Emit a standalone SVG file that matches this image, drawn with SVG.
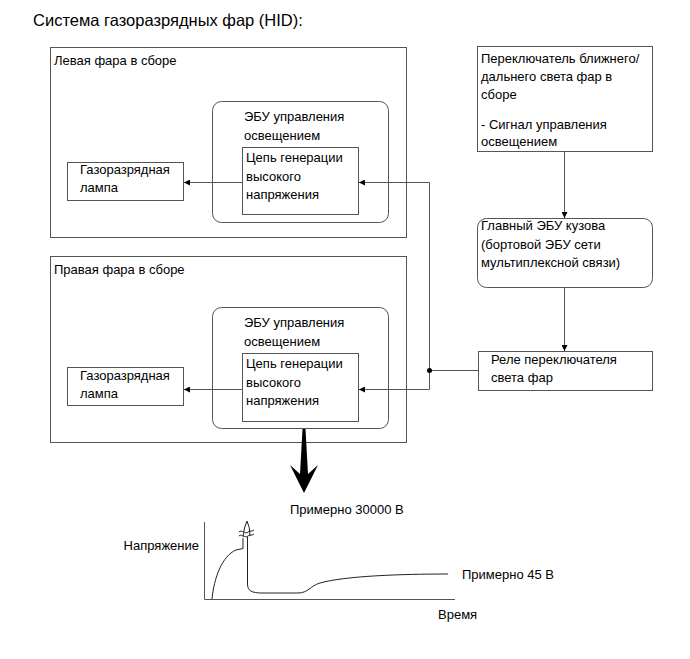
<svg xmlns="http://www.w3.org/2000/svg" width="690" height="659" viewBox="0 0 690 659">
<defs>
<style>
text{font-family:"Liberation Sans",Arial,sans-serif;font-size:13px;fill:#000}
.t{font-size:16.5px}
.box{fill:none;stroke:#555;stroke-width:1}
.ln{fill:none;stroke:#555;stroke-width:1}
.cv{fill:none;stroke:#222;stroke-width:1}
</style>
<marker id="ah" viewBox="0 0 10 10" refX="10" refY="5" markerWidth="9" markerHeight="6" markerUnits="userSpaceOnUse" orient="auto">
<path d="M0,0 L10,5 L0,10 z" fill="#000"/>
</marker>
</defs>
<rect width="690" height="659" fill="#fff"/>
<text class="t" x="33" y="26">Система газоразрядных фар (HID):</text>

<g id="left-headlamp">
<rect class="box" x="50.5" y="47.5" width="356" height="190"/>
<text x="54" y="65">Левая фара в сборе</text>
</g>
<g id="left-ecu">
<rect class="box" x="212.5" y="101.5" width="176" height="121" rx="9"/>
<text x="244" y="121">ЭБУ управления</text>
<text x="244" y="140">освещением</text>
</g>
<g id="left-hv">
<rect class="box" x="242.5" y="147.5" width="116" height="67"/>
<text x="246" y="162">Цепь генерации</text>
<text x="246" y="181">высокого</text>
<text x="246" y="199">напряжения</text>
</g>
<g id="left-lamp">
<rect class="box" x="67.5" y="162.5" width="116" height="38"/>
<text x="80" y="174">Газоразрядная</text>
<text x="80" y="192">лампа</text>
</g>

<g id="right-headlamp">
<rect class="box" x="50.5" y="256.5" width="356" height="186"/>
<text x="54" y="274">Правая фара в сборе</text>
</g>
<g id="right-ecu">
<rect class="box" x="212.5" y="307.5" width="176" height="121" rx="9"/>
<text x="244" y="327">ЭБУ управления</text>
<text x="244" y="346">освещением</text>
</g>
<g id="right-hv">
<rect class="box" x="242.5" y="353.5" width="116" height="68"/>
<text x="246" y="368">Цепь генерации</text>
<text x="246" y="387">высокого</text>
<text x="246" y="405">напряжения</text>
</g>
<g id="right-lamp">
<rect class="box" x="67.5" y="367.5" width="116" height="38"/>
<text x="80" y="380">Газоразрядная</text>
<text x="80" y="398">лампа</text>
</g>

<g id="switch">
<rect class="box" x="477.5" y="46.5" width="175" height="105"/>
<text x="481" y="63">Переключатель ближнего/</text>
<text x="481" y="81">дальнего света фар в</text>
<text x="481" y="99">сборе</text>
<text x="481" y="129">- Сигнал управления</text>
<text x="481" y="146">освещением</text>
</g>
<g id="body-ecu">
<rect class="box" x="477.5" y="218.5" width="175" height="69" rx="9"/>
<text x="481" y="230">Главный ЭБУ кузова</text>
<text x="481" y="249">(бортовой ЭБУ сети</text>
<text x="481" y="267">мультиплексной связи)</text>
</g>
<g id="relay">
<rect class="box" x="478.5" y="351.5" width="174" height="39"/>
<text x="491" y="364">Реле переключателя</text>
<text x="491" y="382">света фар</text>
</g>

<g id="connectors">
<path class="ln" d="M564.5,152 V218" marker-end="url(#ah)"/>
<path class="ln" d="M564.5,288 V351" marker-end="url(#ah)"/>
<path class="ln" d="M478,370.5 H429.5"/>
<path class="ln" d="M429.5,182.5 V389.5"/>
<path class="ln" d="M429.5,182.5 H359" marker-end="url(#ah)"/>
<path class="ln" d="M429.5,389.5 H359" marker-end="url(#ah)"/>
<path class="ln" d="M242,182.5 H184" marker-end="url(#ah)"/>
<path class="ln" d="M242,389.5 H184" marker-end="url(#ah)"/>
<circle cx="429.5" cy="370.5" r="2.5" fill="#000"/>
</g>

<g id="big-arrow">
<polygon points="302.5,429 305.5,429 308,474 318,465 304,493 290,465 300,474" fill="#000"/>
</g>

<g id="graph">
<text x="290" y="514">Примерно 30000 В</text>
<text x="199" y="550" text-anchor="end">Напряжение</text>
<text x="462" y="579">Примерно 45 В</text>
<text x="438" y="619">Время</text>
<path class="ln" d="M204.5,522 V599.5 H455"/>
<path class="cv" d="M212,599 C214,578 222,556 236,550 L243,548.5 V538"/>
<path class="cv" d="M243,537 Q244,527 247,521 Q250,527 250,536"/>
<path class="cv" d="M239,532 C242,529 245,535 248,532 C250,530 252,532 254,530"/>
<path class="cv" d="M239,536 C242,533 245,539 248,536 C250,534 252,536 254,534"/>
<path class="cv" d="M247.5,537 V584 C247.5,591 252,593 262,593 L298,593 C308,593 310,586 320,583 C345,576 400,574 448,574"/>
</g>
</svg>
